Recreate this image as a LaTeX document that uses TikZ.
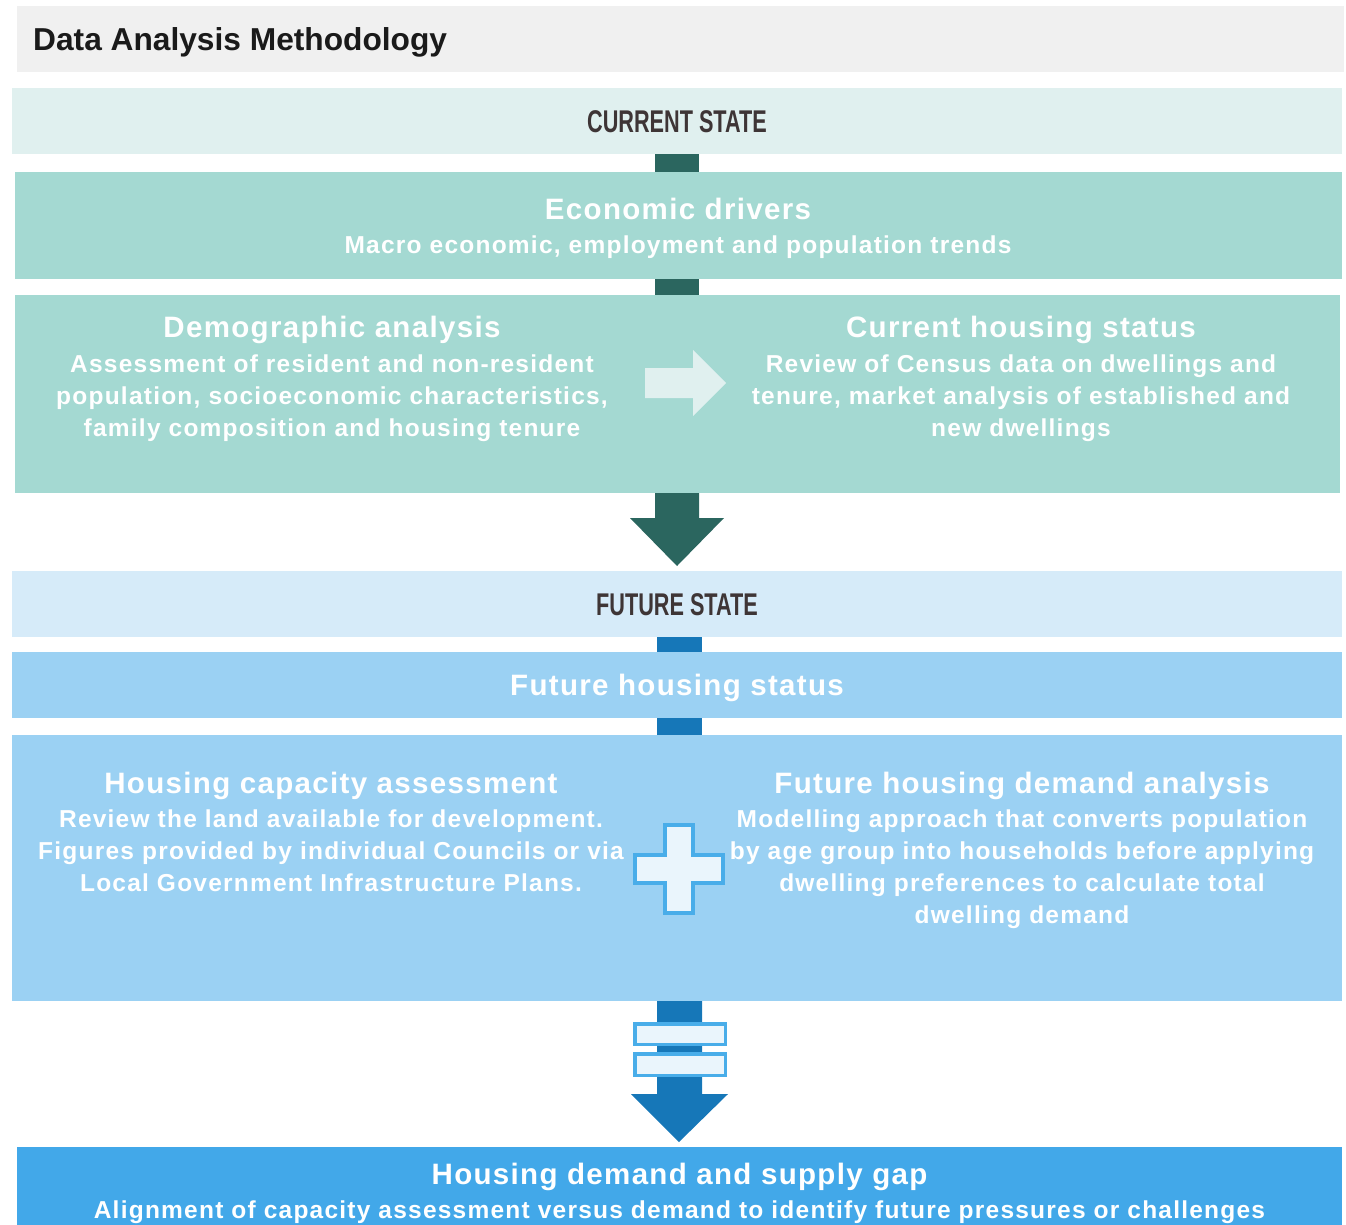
\documentclass[tikz,border=0pt]{standalone}
\usepackage{fontspec}
\setmainfont{Liberation Sans}
\newfontfamily\trkh{Liberation Sans}[LetterSpace=4.5]
\newfontfamily\trkb{Liberation Sans}[LetterSpace=5]
\newfontfamily\plainsans{Liberation Sans}
\usetikzlibrary{calc}
\definecolor{hdrbg}{HTML}{F0F0F0}
\definecolor{hdrtxt}{HTML}{1A1A1A}
\definecolor{statetxt}{HTML}{3E3536}
\definecolor{tealband}{HTML}{E0F0EF}
\definecolor{tealbox}{HTML}{A4D9D2}
\definecolor{tealdark}{HTML}{2B665F}
\definecolor{blueband}{HTML}{D6EBF9}
\definecolor{bluebox}{HTML}{9BD1F3}
\definecolor{bluedark}{HTML}{1677B8}
\definecolor{signfill}{HTML}{EAF5FC}
\definecolor{signline}{HTML}{49ADE9}
\definecolor{gapbox}{HTML}{42A8E9}
\tikzset{
  panel/.style={rectangle, inner sep=0, outer sep=0, draw=none},
  hd/.style={anchor=base, inner sep=0, outer sep=0, text=white, font=\trkh\bfseries\fontsize{29.5}{32}\selectfont},
  bd/.style={anchor=base, inner sep=0, outer sep=0, text=white, align=center, font=\trkb\bfseries\fontsize{24.5}{32}\selectfont},
  statelbl/.style={anchor=base, inner sep=0, outer sep=0, text=statetxt, font=\plainsans\bfseries\fontsize{31.4}{36}\selectfont},
  sign/.style={fill=signfill, draw=signline, line join=miter},
}
\begin{document}
\begin{tikzpicture}[x=1pt,y=-1pt]
\useasboundingbox (0,0) rectangle (1346,1224);
% header
\node[panel, fill=hdrbg, minimum width=1327pt, minimum height=66pt] (hdr) at (680.5,39) {};
\node[anchor=base west, inner sep=0, text=hdrtxt, font=\plainsans\bfseries\fontsize{31.7}{36}\selectfont] (title) at (33,50) {Data Analysis Methodology};
% current state
\node[panel, fill=tealband, minimum width=1330pt, minimum height=66pt] (cur) at (677,121) {};
\node[statelbl] (curlbl) at (677,132.5) {\scalebox{0.69}[1]{CURRENT STATE}};
\node[panel, fill=tealbox, minimum width=1327pt, minimum height=107pt] (econ) at (678.5,225.5) {};
\node[hd] (econh) at (678,219) {Economic drivers};
\node[bd] (econb) at (678,253) {Macro economic, employment and population trends};
\node[panel, fill=tealbox, minimum width=1325pt, minimum height=198pt] (demo) at (677.5,394) {};
\node[hd] (demoh) at (332,337) {Demographic analysis};
\node[bd] (demob) at (332,436) {Assessment of resident and non-resident\\population, socioeconomic characteristics,\\family composition and housing tenure};
\node[hd] (chsh) at (1021,337) {Current housing status};
\node[bd] (chsb) at (1021,436) {Review of Census data on dwellings and\\tenure, market analysis of established and\\new dwellings};
% connectors (current)
\fill[tealdark] ($(cur.south)+(-22,0)$) rectangle ($(econ.north -| cur.south)+(22,0)$);
\fill[tealdark] ($(econ.south -| cur.south)+(-22,0)$) rectangle ($(demo.north -| cur.south)+(22,0)$);
\coordinate (rarrow) at (645,383);
\fill[tealband] (rarrow) ++(0,-15) -- ++(48,0) -- ++(0,-18) -- ++(33,33) -- ++(-33,33) -- ++(0,-18) -- ++(-48,0) -- cycle;
% future state
\node[panel, fill=blueband, minimum width=1330pt, minimum height=66pt] (fut) at (677,604) {};
\node[statelbl] (futlbl) at (677,615.5) {\scalebox{0.69}[1]{FUTURE STATE}};
\coordinate (darrow) at (demo.south -| cur.south);
\fill[tealdark] (darrow) ++(-22,0) -- ++(44,0) -- ++(0,25) -- ++(25,0) -- ++(-47,48) -- ++(-47,-48) -- ++(25,0) -- cycle;
\node[panel, fill=bluebox, minimum width=1330pt, minimum height=66pt] (fhs) at (677,685) {};
\node[hd] (fhsh) at (677,695) {Future housing status};
\node[panel, fill=bluebox, minimum width=1330pt, minimum height=266pt] (cap) at (677,868) {};
\fill[bluedark] ($(fut.south)+(-20,0)$) rectangle ($(fhs.north -| fut.south)+(25,0)$);
\fill[bluedark] ($(fhs.south -| fut.south)+(-20,0)$) rectangle ($(cap.north -| fut.south)+(25,0)$);
\node[hd] (caph) at (331,793) {Housing capacity assessment};
\node[bd] (capb) at (331,891.5) {Review the land available for development.\\Figures provided by individual Councils or via\\Local Government Infrastructure Plans.};
\node[hd] (demh) at (1022,793) {Future housing demand analysis};
\node[bd] (demb) at (1022,923.5) {Modelling approach that converts population\\by age group into households before applying\\dwelling preferences to calculate total\\dwelling demand};
% plus sign
\coordinate (plus) at (679,869);
\draw[sign, line width=4pt] (plus) ++(-14,-44) -- ++(28,0) -- ++(0,30) -- ++(30,0) -- ++(0,28) -- ++(-30,0) -- ++(0,30) -- ++(-28,0) -- ++(0,-30) -- ++(-30,0) -- ++(0,-28) -- ++(30,0) -- cycle;
% bottom
\node[panel, fill=gapbox, minimum width=1325pt, minimum height=90pt] (gap) at (679.5,1192) {};
\coordinate (earrow) at (cap.south -| plus);
\fill[bluedark] (earrow) ++(-22,0) -- ++(45,0) -- ++(0,93) -- ++(26,0) -- ++(-49,48) -- ++(-48,-48) -- ++(26,0) -- cycle;
\draw[sign, line width=3.5pt] (634.75,1023.75) rectangle (725.25,1044.25);
\draw[sign, line width=3.5pt] (634.75,1053.75) rectangle (725.25,1075.25);
\node[hd] (gaph) at (679.5,1184) {Housing demand and supply gap};
\node[bd] (gapb) at (679.5,1218) {Alignment of capacity assessment versus demand to identify future pressures or challenges};
\end{tikzpicture}
\end{document}
